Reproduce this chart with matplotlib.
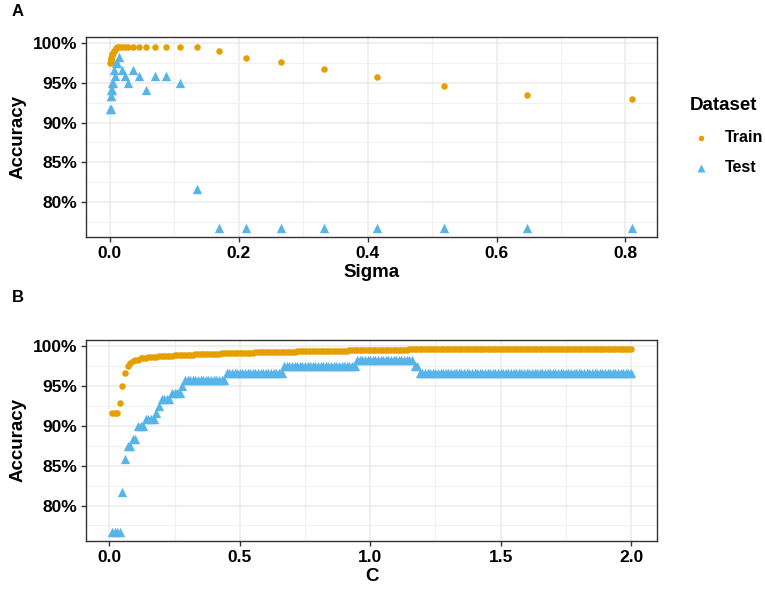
import numpy as np
import matplotlib.pyplot as plt
from matplotlib.ticker import FuncFormatter, MultipleLocator

plt.rcParams['font.family'] = ['Liberation Sans', 'DejaVu Sans']

# Panel A: accuracy vs sigma
sigma = [0.81, 0.648, 0.518, 0.415, 0.332, 0.265, 0.212, 0.170, 0.136, 0.109,
         0.087, 0.0696, 0.0557, 0.0446, 0.0356, 0.0285, 0.0228, 0.0183, 0.0146,
         0.0117, 0.0093, 0.0075, 0.0060, 0.0048, 0.0038, 0.0031, 0.0024, 0.0020,
         0.0016, 0.0013, 0.0010]
train_a = [92.92, 93.5, 94.6, 95.8, 96.75, 97.6, 98.2, 99.0, 99.5, 99.6,
           99.6, 99.6, 99.6, 99.6, 99.6, 99.6, 99.6, 99.6, 99.58, 99.5,
           99.4, 99.2, 99.0, 98.8, 98.6, 98.4, 98.2, 98.0, 97.9, 97.7, 97.5]
test_a = [76.67, 76.67, 76.67, 76.67, 76.67, 76.67, 76.67, 76.67, 81.67, 95.0,
          95.83, 95.83, 94.17, 95.83, 96.67, 95.0, 95.83, 96.67, 98.33, 97.5,
          97.5, 95.83, 96.67, 95.0, 95.0, 94.17, 94.17, 93.33, 93.33, 91.67, 91.67]

# Panel B: accuracy vs C (C = 0.01 ... 2.00), step levels with start C
C = np.round(np.arange(1, 201) * 0.01, 2)
train_b_start = [0.01, 0.04, 0.05, 0.06, 0.07, 0.08, 0.09, 0.10, 0.12, 0.15,
                 0.19, 0.25, 0.33, 0.43, 0.56, 0.72, 0.92, 1.15, 1.45]
train_b_level = [91.67, 92.92, 95.0, 96.67, 97.5, 97.92, 98.13, 98.33, 98.5,
                 98.65, 98.8, 98.95, 99.1, 99.22, 99.34, 99.45, 99.55, 99.62,
                 99.67]
test_b_start = [0.01, 0.05, 0.06, 0.07, 0.09, 0.11, 0.14, 0.18, 0.19, 0.20,
                0.24, 0.28, 0.29, 0.45, 0.67, 0.95, 1.17, 1.19]
test_b_level = [76.67, 81.67, 85.83, 87.5, 88.33, 90.0, 90.83, 91.67, 92.5,
                93.33, 94.17, 95.0, 95.83, 96.67, 97.5, 98.33, 97.5, 96.67]


def steps(x, starts, levels):
    idx = np.searchsorted(np.array(starts), x + 1e-9, side='right') - 1
    return np.array(levels)[idx]


train_b = steps(C, train_b_start, train_b_level)
test_b = steps(C, test_b_start, test_b_level)

ORANGE = '#E69F00'
BLUE = '#56B4E9'
W, H = 765, 591


def px_axes(fig, l, t, r, b):
    return fig.add_axes([l / W, 1 - b / H, (r - l) / W, (b - t) / H])


def style(ax, major, minor, xlabel):
    ax.set_facecolor('white')
    ax.xaxis.set_major_locator(MultipleLocator(major))
    ax.xaxis.set_minor_locator(MultipleLocator(minor))
    ax.yaxis.set_major_locator(MultipleLocator(5))
    ax.yaxis.set_minor_locator(MultipleLocator(2.5))
    ax.grid(which='major', color='#EBEBEB', lw=1.1)
    ax.grid(which='minor', color='#F0F0F0', lw=0.8)
    ax.set_axisbelow(True)
    for s in ax.spines.values():
        s.set_color('#333333')
        s.set_linewidth(1.0)
    ax.tick_params(which='major', length=3.5, color='#333333', width=1,
                   labelsize=12.5, labelcolor='black', pad=3)
    ax.tick_params(which='minor', length=0)
    ax.yaxis.set_major_formatter(FuncFormatter(lambda v, p: f'{v:.0f}%'))
    ax.xaxis.set_major_formatter(FuncFormatter(lambda v, p: f'{v:.1f}'))
    ax.set_ylim(75.55, 100.8)
    ax.set_ylabel('Accuracy', fontsize=13.5, fontweight='bold', labelpad=4)
    ax.set_xlabel(xlabel, fontsize=13.5, fontweight='bold', labelpad=2)
    for lab in ax.get_xticklabels() + ax.get_yticklabels():
        lab.set_fontweight('bold')


fig = plt.figure(figsize=(W / 100, H / 100), dpi=100)

axA = px_axes(fig, 86, 37, 657, 237)
axA.scatter(sigma, train_a, s=22, marker='o', color=ORANGE, lw=0, label='Train', zorder=3)
axA.scatter(sigma, test_a, s=45, marker='^', color=BLUE, lw=0, label='Test', zorder=3)
axA.set_xlim(-0.037, 0.849)
style(axA, 0.2, 0.1, 'Sigma')

leg = fig.legend(*axA.get_legend_handles_labels(), title='Dataset',
                 loc='center left', bbox_to_anchor=(682 / W, 1 - 136 / H),
                 frameon=False, fontsize=11.5, title_fontsize=13.5,
                 borderpad=0, handlelength=1.4, handletextpad=0.8,
                 labelspacing=0.95, markerscale=0.85)
leg.get_title().set_fontweight('bold')
leg._legend_box.align = 'left'
leg._legend_box.sep = 12
for t in leg.get_texts():
    t.set_fontweight('bold')

axB = px_axes(fig, 86, 340, 657, 541)
axB.scatter(C, train_b, s=22, marker='o', color=ORANGE, lw=0, zorder=3)
axB.scatter(C, test_b, s=45, marker='^', color=BLUE, lw=0, zorder=3)
axB.set_xlim(-0.0895, 2.0995)
style(axB, 0.5, 0.25, 'C')

fig.text(12 / W, 1 - 12 / H, 'A', fontsize=12, fontweight='bold', va='center')
fig.text(12 / W, 1 - 298 / H, 'B', fontsize=12, fontweight='bold', va='center')

fig.savefig('out.png', dpi=100, facecolor='white')
